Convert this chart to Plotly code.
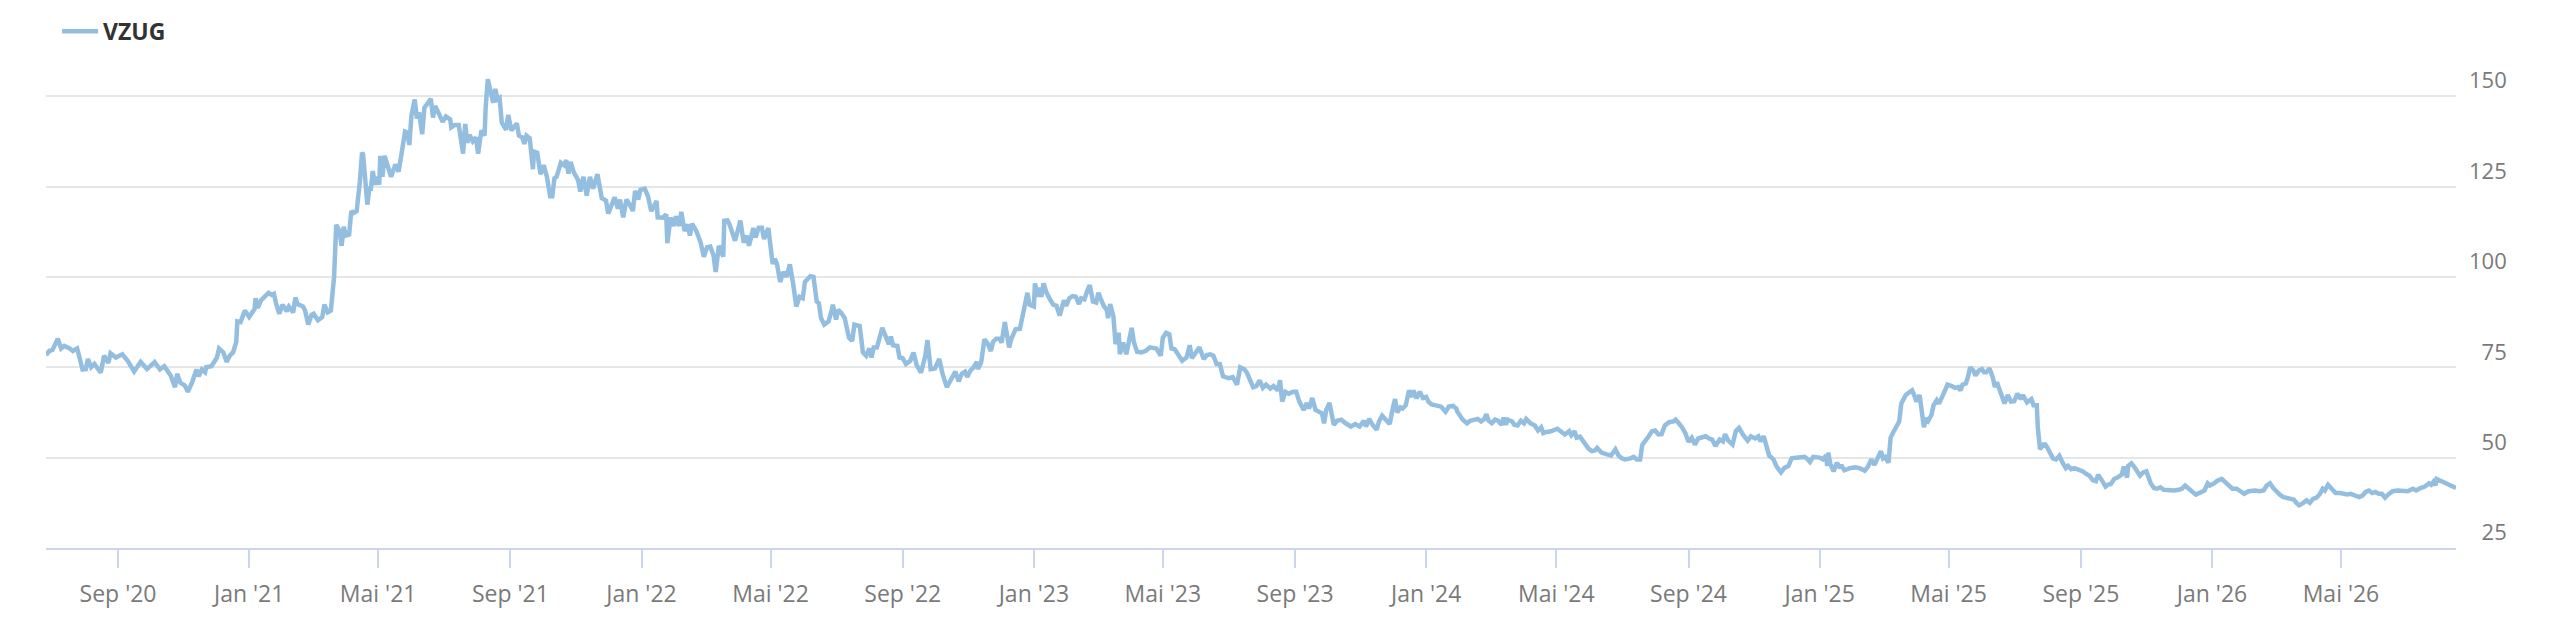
import pandas as pd
import plotly.graph_objects as go

# VZUG closing prices.
# x positions are stored as days counted from 1 Sep 2020.
days_from_sep2020 = [
    -67, -64, -61, -56, -53, -50, -45, -42, -38, -33, -30, -28, -25, -22, -16, -13, -9, -7, -2,
    4, 9, 15, 21, 27, 34, 39, 43, 49, 53, 55, 58, 62, 65, 69, 73, 75, 78, 81, 82, 87,
    92, 94, 98, 101, 104, 107, 110, 111, 114, 118, 122, 127, 128, 130, 133, 137, 140, 143, 145, 147,
    150, 153, 157, 159, 163, 165, 167, 172, 174, 177, 180, 182, 186, 190, 192, 195, 198, 201, 203, 206,
    208, 210, 212, 215, 217, 219, 222, 225, 227, 228, 230, 232, 234, 235, 237, 239, 241, 243, 244, 246,
    248, 251, 254, 258, 261, 264, 267, 269, 271, 273, 276, 278, 280, 283, 285, 288, 291, 293, 295, 298,
    302, 305, 309, 310, 313, 317, 321, 323, 325, 327, 330, 333, 335, 338, 341, 342, 344, 347, 349, 351,
    353, 355, 357, 361, 363, 366,
    371, 373, 376, 378, 380, 383, 386, 387, 390, 393, 396, 399, 402, 404, 406, 408, 412, 415, 417, 419,
    421, 424, 428, 430, 433, 436, 439, 442, 446, 450, 454, 456, 459, 462, 465, 467, 470, 473, 476, 479,
    481, 484, 486, 490, 493, 496, 501, 502, 507, 510, 511, 514, 517, 519, 522, 524, 527, 530, 532, 534,
    538, 542, 545, 548, 551, 554, 556, 559, 563, 564, 567, 569, 574, 576, 579, 582, 585, 587, 591, 593,
    596, 599, 601, 605, 609, 611, 613, 616, 619, 622, 625, 628, 631, 634, 637, 639, 644, 647, 650, 652,
    654, 657, 661, 664, 665, 668, 670, 673, 676, 680, 683, 685, 690, 693, 696, 699, 701, 703, 706, 711,
    713, 717, 719, 721, 725, 727, 730, 733, 737, 740, 743, 747, 751, 753, 756, 760, 764, 767, 771, 775,
    779, 782, 785, 788, 790, 793, 796, 799, 800, 803, 806, 809,
    812, 814, 817, 820, 822, 825, 827, 829, 831, 835, 839, 841, 846, 848, 852, 853, 856, 857, 859, 861,
    864, 867, 870, 873, 876, 880, 882, 885, 888, 891, 894, 896, 899, 902, 904, 907, 910, 912, 915, 917,
    920, 921, 923, 926, 928, 931, 932, 935, 938, 940, 943, 945, 948, 952, 956, 960, 964, 966, 970, 972,
    975, 978, 980, 983, 987, 990, 994, 997, 999, 1002, 1006, 1010, 1013, 1016, 1019, 1022, 1025, 1028, 1033, 1037,
    1041, 1044, 1048, 1050, 1053, 1056, 1059, 1062, 1065, 1068, 1072, 1075, 1079, 1081, 1083, 1086, 1089, 1093, 1096, 1099,
    1103, 1106, 1108, 1111, 1114, 1117, 1120, 1122, 1124, 1127, 1131, 1134, 1138, 1142, 1147, 1151, 1155, 1159, 1161, 1164,
    1167, 1171, 1173, 1176, 1178, 1183, 1186, 1188, 1190, 1193, 1195, 1198, 1201, 1204, 1205, 1208, 1211, 1214, 1217, 1219,
    1222, 1226, 1231, 1235, 1238, 1242, 1245, 1246, 1248, 1251, 1255, 1258,
    1262, 1265, 1268, 1271, 1273, 1275, 1278, 1281, 1284, 1287, 1289, 1291, 1293, 1297, 1299, 1302, 1305, 1308, 1310, 1314,
    1318, 1321, 1324, 1326, 1329, 1333, 1339, 1343, 1346, 1350, 1352, 1355, 1357, 1360, 1363, 1366, 1368, 1371, 1374, 1376,
    1380, 1385, 1389, 1393, 1396, 1399, 1402, 1407, 1410, 1413, 1416, 1418, 1421, 1424, 1427, 1430, 1433, 1436, 1439, 1443,
    1447, 1449, 1452, 1455, 1458, 1461, 1464, 1467, 1470, 1474, 1477, 1480, 1483, 1486, 1490, 1493, 1495, 1498, 1502, 1505,
    1508, 1512, 1516, 1519, 1523, 1526, 1528, 1531, 1534, 1536, 1540, 1543, 1547, 1550, 1554, 1557, 1561, 1565, 1569, 1571,
    1574, 1577, 1580, 1583, 1586, 1589, 1590, 1591, 1593, 1596, 1599, 1602, 1603, 1606, 1611, 1616, 1620, 1625, 1628, 1631,
    1634, 1637, 1640, 1642, 1644, 1647, 1649, 1652, 1655, 1657, 1659, 1663, 1666, 1669, 1671, 1673, 1676, 1678, 1680, 1682,
    1684, 1687, 1689, 1692, 1694, 1697, 1700, 1702, 1706,
    1709, 1712, 1714, 1716, 1719, 1721, 1723, 1726, 1728, 1731, 1734, 1736, 1738, 1741, 1744, 1746, 1748, 1750, 1753, 1755,
    1758, 1761, 1764, 1767, 1770, 1772, 1776, 1778, 1780, 1782, 1785, 1786, 1787, 1788, 1791, 1793, 1795, 1798, 1800, 1803,
    1806, 1809, 1812, 1814, 1817, 1820, 1823, 1828, 1831, 1834, 1837, 1840, 1842, 1844, 1846, 1849, 1851, 1854, 1857, 1860,
    1864, 1866, 1869, 1870, 1873, 1876, 1879, 1881, 1884, 1887, 1891, 1894, 1897, 1900, 1903, 1908, 1913, 1917, 1920, 1923,
    1927, 1930, 1933, 1937, 1941, 1944, 1946, 1950, 1953, 1957, 1961, 1964, 1967, 1971, 1975, 1978, 1982, 1988, 1992, 1996,
    1999, 2002, 2005, 2007, 2011, 2014, 2017, 2021, 2024, 2027, 2029, 2033, 2036, 2039, 2042, 2045, 2048, 2051, 2053, 2056,
    2060, 2063, 2067, 2071, 2074, 2077, 2081, 2085, 2088, 2091, 2094, 2097, 2100, 2103, 2106, 2109, 2112, 2116, 2121, 2125,
    2130, 2135, 2138, 2142, 2146, 2150, 2152, 2154, 2156, 2157, 2161, 2166, 2170, 2175,
]

vzug_price = [
    78.4, 79.5, 79.8, 82.9, 80.2, 80.9, 80.2, 79.5, 80.2, 74.4, 74.5, 77.3, 75.0, 75.9, 73.5, 78.2, 76.2, 78.9, 77.7,
    78.6, 76.8, 73.8, 76.5, 74.5, 76.4, 74.4, 75.3, 72.7, 69.5, 73.2, 70.7, 70.0, 68.2, 70.9, 74.4, 72.5, 74.4, 73.6, 75.0, 75.3,
    77.7, 80.2, 79.1, 76.5, 78.2, 79.1, 82.0, 87.7, 87.5, 90.7, 88.9, 91.1, 94.1, 91.4, 93.5, 94.5, 95.6, 95.0, 95.3, 92.7,
    89.8, 92.3, 90.5, 91.8, 90.2, 94.3, 92.5, 91.8, 90.7, 86.8, 89.5, 89.8, 88.0, 88.9, 92.3, 90.2, 90.7, 100.0, 114.4, 112.7,
    108.6, 113.9, 111.4, 111.7, 118.2, 117.7, 118.2, 126.4, 134.4, 133.8, 127.7, 120.0, 125.0, 123.8, 129.3, 125.5, 127.7, 125.5, 133.5, 127.7,
    133.5, 130.0, 127.7, 131.1, 129.1, 134.5, 140.2, 140.0, 136.5, 144.7, 149.1, 143.8, 145.5, 139.5, 146.8, 148.0, 149.3, 144.1, 147.3, 145.5,
    142.9, 144.4, 143.6, 141.4, 142.0, 142.0, 134.1, 142.3, 137.1, 139.3, 137.5, 138.6, 134.1, 140.5, 139.1, 146.8, 154.7, 150.9, 148.2, 152.0,
    149.1, 149.5, 142.7, 140.7, 144.8, 140.5,
    142.5, 139.1, 138.6, 136.8, 139.1, 138.4, 129.8, 134.7, 134.4, 128.4, 130.9, 127.7, 122.3, 122.3, 127.3, 127.7, 131.6, 130.9, 132.3, 128.6,
    131.8, 128.9, 126.8, 123.6, 127.7, 122.5, 127.7, 124.4, 128.4, 121.8, 121.1, 117.5, 120.0, 122.0, 118.9, 121.4, 116.5, 121.4, 120.0, 118.2,
    123.8, 121.4, 124.1, 124.4, 122.3, 118.2, 121.0, 116.5, 116.4, 117.3, 109.3, 116.4, 114.1, 116.8, 114.1, 118.0, 112.7, 114.5, 111.4, 114.7,
    112.7, 109.5, 105.6, 108.2, 108.4, 105.9, 101.4, 108.6, 105.6, 115.5, 115.6, 114.4, 110.0, 112.3, 115.6, 109.5, 111.4, 108.6, 113.5, 110.9,
    113.6, 113.6, 110.5, 113.5, 103.6, 105.0, 103.6, 98.6, 101.4, 100.0, 103.5, 98.2, 91.8, 94.5, 94.1, 98.6, 100.2, 100.0, 93.2, 92.7,
    88.6, 86.8, 87.7, 90.9, 92.3, 88.2, 90.9, 90.0, 88.6, 83.2, 82.3, 86.8, 86.4, 79.1, 78.2, 80.2, 77.7, 80.5, 80.5, 85.9,
    84.1, 81.4, 83.5, 81.1, 80.9, 77.7, 77.5, 75.9, 76.8, 79.1, 75.6, 73.5, 78.2, 82.5, 74.5, 74.7, 77.3, 73.2, 69.5, 71.8,
    73.8, 71.1, 73.2, 73.8, 72.3, 74.1, 75.0, 76.5, 74.5, 76.4, 82.7, 81.6,
    79.5, 82.0, 82.9, 82.9, 81.8, 87.5, 83.6, 80.5, 82.9, 85.5, 85.6, 88.2, 95.6, 92.3, 91.8, 98.2, 94.5, 97.1, 94.5, 98.2,
    95.5, 93.8, 92.3, 92.0, 89.3, 93.5, 92.0, 94.1, 94.7, 94.5, 92.5, 94.1, 93.8, 96.4, 97.7, 93.2, 92.9, 95.6, 93.5, 92.0,
    90.7, 88.6, 92.5, 89.1, 81.4, 84.5, 78.6, 81.8, 78.6, 81.8, 85.9, 82.0, 79.3, 79.1, 79.5, 80.5, 80.2, 80.2, 78.2, 83.2,
    84.5, 84.1, 80.2, 80.0, 78.2, 76.8, 77.7, 81.1, 77.5, 78.6, 80.5, 77.3, 78.4, 78.6, 78.2, 75.9, 75.9, 72.5, 72.0, 72.3,
    70.2, 75.0, 74.4, 73.6, 71.8, 69.5, 69.8, 71.4, 69.3, 70.2, 69.1, 69.8, 68.6, 71.4, 65.5, 68.2, 67.7, 68.2, 68.2, 65.5,
    63.2, 65.1, 63.6, 66.5, 63.2, 62.9, 62.3, 59.5, 63.2, 65.1, 59.1, 60.2, 60.5, 59.5, 58.6, 59.3, 58.6, 60.2, 58.6, 60.7,
    59.1, 57.7, 60.0, 61.6, 60.9, 59.3, 63.8, 66.2, 62.5, 63.9, 63.6, 64.5, 68.6, 66.8, 68.6, 66.4, 68.2, 66.5, 66.8, 65.5,
    64.7, 64.5, 64.1, 62.7, 64.1, 64.3, 63.6, 62.7, 61.8, 60.5, 59.5, 60.2,
    60.5, 60.7, 60.0, 60.7, 62.0, 60.2, 59.5, 60.5, 60.2, 59.1, 61.1, 59.1, 60.5, 60.0, 59.1, 58.9, 60.2, 59.5, 60.7, 59.5,
    58.9, 57.5, 58.4, 56.8, 57.1, 57.3, 58.0, 57.1, 56.4, 57.3, 56.2, 57.3, 55.5, 55.8, 54.5, 53.2, 52.5, 51.8, 52.0, 52.7,
    51.4, 50.9, 50.6, 52.3, 50.5, 49.8, 49.5, 49.8, 50.2, 49.5, 49.5, 53.5, 54.5, 55.9, 57.3, 57.5, 56.4, 56.5, 58.9, 59.8,
    60.0, 60.5, 59.5, 58.4, 56.8, 54.4, 55.5, 53.6, 55.3, 55.6, 55.9, 55.3, 55.0, 53.2, 55.0, 54.5, 56.5, 54.7, 53.6, 57.3,
    58.2, 56.2, 54.7, 55.9, 55.3, 55.9, 54.5, 55.9, 52.5, 50.6, 49.5, 47.5, 45.9, 47.1, 47.7, 49.8, 50.0, 50.0, 50.2, 49.8,
    48.8, 50.2, 50.2, 50.0, 49.5, 50.6, 47.7, 51.4, 48.2, 46.2, 48.6, 47.1, 48.0, 46.5, 47.1, 47.3, 47.1, 46.4, 47.5, 49.5,
    48.0, 50.2, 51.8, 49.8, 50.2, 48.6, 55.5, 57.3, 58.9, 60.0, 65.0, 67.3, 68.0, 68.6, 67.3, 65.5, 67.3, 62.7, 58.4, 60.9,
    60.2, 61.8, 64.5, 65.9, 65.0, 66.8, 69.1, 70.2, 69.8,
    69.3, 69.5, 68.6, 70.2, 70.5, 72.3, 75.0, 74.1, 72.7, 74.1, 74.5, 73.6, 73.6, 74.7, 72.3, 69.5, 70.9, 69.1, 66.8, 65.0,
    67.3, 65.5, 65.6, 67.7, 66.2, 67.3, 65.3, 65.6, 66.2, 64.5, 64.5, 58.2, 53.6, 52.3, 53.6, 53.6, 52.7, 50.9, 49.8, 49.5,
    50.5, 48.6, 47.1, 47.7, 46.8, 47.1, 46.8, 46.2, 45.5, 45.0, 43.8, 43.5, 45.3, 44.1, 43.5, 42.0, 42.5, 42.7, 44.1, 44.5,
    45.3, 47.5, 44.5, 47.7, 48.4, 47.3, 46.2, 45.0, 45.9, 46.2, 42.9, 41.6, 41.4, 41.8, 41.1, 40.9, 40.9, 41.1, 41.4, 42.3,
    41.1, 40.5, 39.8, 40.5, 40.9, 42.9, 42.3, 42.9, 43.6, 44.1, 42.9, 42.3, 41.4, 41.4, 40.5, 40.0, 40.7, 40.9, 40.7, 40.9,
    42.3, 42.9, 41.6, 40.9, 39.8, 39.1, 38.9, 38.6, 38.4, 37.3, 36.8, 37.5, 38.2, 37.5, 38.6, 38.9, 39.8, 41.4, 40.9, 42.5,
    41.4, 40.2, 40.2, 40.0, 39.8, 40.0, 39.5, 39.1, 39.5, 40.5, 40.9, 40.2, 40.5, 40.0, 40.0, 38.9, 39.8, 40.7, 40.9, 40.9,
    40.7, 41.4, 40.9, 41.6, 42.0, 42.9, 42.5, 43.3, 42.3, 44.1, 43.5, 42.9, 42.0, 41.6,
]

tick_dates = [
    "2020-09-01", "2021-01-01", "2021-05-01", "2021-09-01", "2022-01-01", "2022-05-01",
    "2022-09-01", "2023-01-01", "2023-05-01", "2023-09-01", "2024-01-01", "2024-05-01",
    "2024-09-01", "2025-01-01", "2025-05-01", "2025-09-01", "2026-01-01", "2026-05-01",
]
tick_labels = [
    "Sep '20", "Jan '21", "Mai '21", "Sep '21", "Jan '22", "Mai '22",
    "Sep '22", "Jan '23", "Mai '23", "Sep '23", "Jan '24", "Mai '24",
    "Sep '24", "Jan '25", "Mai '25", "Sep '25", "Jan '26", "Mai '26",
]
y_ticks = [25, 50, 75, 100, 125, 150]
# figure space keeps the two-digit labels right-aligned with the three-digit ones
y_labels = ["\u200725", "\u200750", "\u200775", "100", "125", "150"]

dates = pd.Timestamp("2020-09-01") + pd.to_timedelta(days_from_sep2020, unit="D")

fig = go.Figure()
fig.add_trace(go.Scatter(
    x=dates,
    y=vzug_price,
    mode="lines",
    name="VZUG",
    line=dict(color="#93bee0", width=4.5),
))

# the page body adds an 8px margin, so the figure is sized 8px smaller
fig.update_layout(
    width=2548,
    height=626,
    margin=dict(l=38, r=100, t=52, b=86),
    paper_bgcolor="white",
    plot_bgcolor="white",
    font=dict(family="Open Sans", color="#7a7a7a"),
    showlegend=True,
    legend=dict(
        orientation="h",
        x=0.0046, xanchor="left",
        y=0.997, yref="container", yanchor="top",
        itemwidth=36,
        font=dict(family="Open Sans", size=23, color="#333333", weight="bold"),
        bgcolor="rgba(0,0,0,0)",
    ),
    xaxis=dict(
        type="date",
        range=[dates[0], dates[-1]],
        tickvals=tick_dates,
        ticktext=tick_labels,
        showgrid=False,
        zeroline=False,
        showline=True,
        linecolor="#ccd6eb",
        linewidth=2,
        ticks="outside",
        ticklen=18,
        tickwidth=2,
        tickcolor="#ccd6eb",
        ticklabelstandoff=6,
        tickfont=dict(size=23, color="#7a7a7a"),
    ),
    yaxis=dict(
        side="right",
        range=[25, 158.2],
        tickvals=y_ticks,
        ticktext=y_labels,
        showgrid=True,
        gridcolor="#e6e6e6",
        gridwidth=2,
        zeroline=False,
        showline=False,
        ticks="",
        ticklabelposition="outside top",
        ticklabelstandoff=12,
        tickfont=dict(size=22, color="#7a7a7a"),
    ),
)

fig.write_html("out.html")
